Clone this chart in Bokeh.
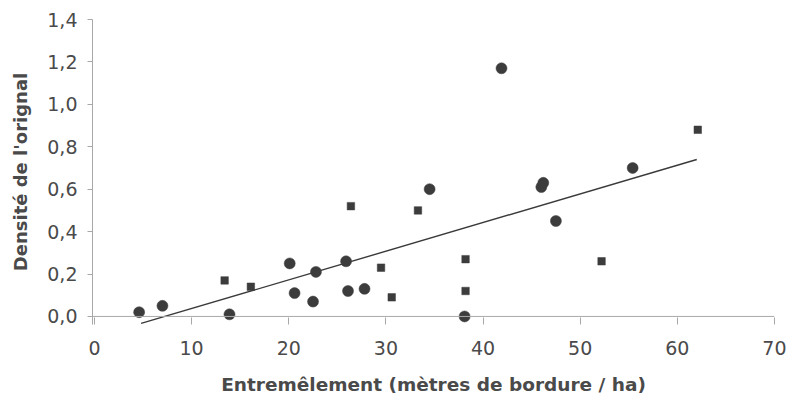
from bokeh.plotting import figure
from bokeh.models import FixedTicker, Range1d, ColumnDataSource, Span
from bokeh.embed import file_html
from bokeh.resources import INLINE

# Data
circle_x = [4.6, 7.0, 13.9, 20.1, 20.6, 22.8, 22.5, 25.9, 26.1, 27.8, 34.5, 41.9, 46.0, 46.2, 47.5, 55.4, 38.1]
circle_y = [0.02, 0.05, 0.01, 0.25, 0.11, 0.21, 0.07, 0.26, 0.12, 0.13, 0.60, 1.17, 0.61, 0.63, 0.45, 0.70, 0.00]
square_x = [13.4, 16.1, 26.4, 29.5, 30.6, 33.3, 38.2, 38.2, 52.2, 62.1]
square_y = [0.17, 0.14, 0.52, 0.23, 0.09, 0.50, 0.27, 0.12, 0.26, 0.88]
trend_x = [4.8, 62.0]
trend_y = [-0.033, 0.74]

x_ticks = [0, 10, 20, 30, 40, 50, 60, 70]
x_tick_labels = ["0", "10", "20", "30", "40", "50", "60", "70"]
y_ticks = [0.0, 0.2, 0.4, 0.6, 0.8, 1.0, 1.2, 1.4]
y_tick_labels = ["0,0", "0,2", "0,4", "0,6", "0,8", "1,0", "1,2", "1,4"]

x_title = "Entremêlement (mètres de bordure / ha)"
y_title = "Densité de l'orignal"

FONT = "DejaVu Sans"
TFONT = "DejaVu Sans"
TEXT = "#4a4a4a"
AXIS = "#a8a8a8"
MARK = "#3c3c3c"

p = figure(frame_width=682, frame_height=305, output_backend="svg", toolbar_location=None,
           x_range=Range1d(-0.2, 70), y_range=Range1d(-0.038, 1.4),
           min_border_left=92, min_border_top=19, min_border_right=12, min_border_bottom=78)
p.outline_line_color = None
p.grid.visible = False
p.background_fill_color = "white"
p.border_fill_color = "white"

# x-axis line at y = 0
p.add_layout(Span(location=y_ticks[0], dimension="width", line_color=AXIS, line_width=1))

circ = ColumnDataSource(dict(x=circle_x, y=circle_y))
sq = ColumnDataSource(dict(x=square_x, y=square_y))
p.line(trend_x, trend_y, line_color="#3a3a3a", line_width=1.4)
p.scatter("x", "y", source=circ, marker="circle", size=11, fill_color=MARK, line_color=MARK, line_alpha=0.5)
p.scatter("x", "y", source=sq, marker="square", size=7.5, fill_color=MARK, line_color=MARK, line_alpha=0.5)

xa = p.xaxis[0]
xa.ticker = FixedTicker(ticks=x_ticks)
xa.major_label_overrides = {t: l for t, l in zip(x_ticks, x_tick_labels)}
xa.minor_tick_line_color = None
xa.axis_line_color = None
xa.major_tick_line_color = AXIS
xa.major_tick_in = 7
xa.major_tick_out = 0
xa.major_label_standoff = 16
xa.major_label_text_font = FONT
xa.major_label_text_font_size = "19px"
xa.major_label_text_color = TEXT
xa.axis_label = x_title
xa.axis_label_text_font = TFONT
xa.axis_label_text_font_style = "bold"
xa.axis_label_text_font_size = "18.5px"
xa.axis_label_text_color = TEXT
xa.axis_label_standoff = 16

ya = p.yaxis[0]
ya.ticker = FixedTicker(ticks=y_ticks)
ya.major_label_overrides = {t: l for t, l in zip(y_ticks, y_tick_labels)}
ya.minor_tick_line_color = None
ya.axis_line_color = AXIS
ya.major_tick_line_color = AXIS
ya.major_tick_in = 0
ya.major_tick_out = 5
ya.major_label_standoff = 10
ya.major_label_text_font = FONT
ya.major_label_text_font_size = "19px"
ya.major_label_text_color = TEXT
ya.axis_label = y_title
ya.axis_label_text_font = TFONT
ya.axis_label_text_font_style = "bold"
ya.axis_label_text_font_size = "18px"
ya.axis_label_text_color = TEXT
ya.axis_label_standoff = 13

open("out.html", "w").write(file_html(p, INLINE))
